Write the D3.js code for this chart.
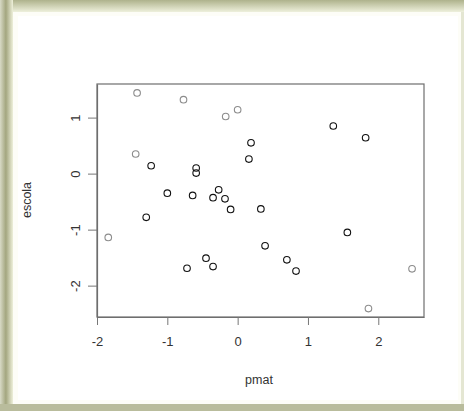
<!DOCTYPE html>
<html>
<head>
  <meta charset="utf-8" />
  <script src="https://d3js.org/d3.v7.min.js"></script>
  <style>
    body { margin: 0; background: #fff; }
    text { font-family: "Liberation Sans", Arial, sans-serif; fill: #333; }
  </style>
</head>
<body>
  <div id="chart"></div>
  <script>
    // pmat / escola values
    const pmat = [-1.43, -0.77, -0.17, 0.00, 1.36, 1.82, 0.19, 0.16, -1.45, -1.23,
                  -0.59, -0.59, -1.00, -0.64, -0.27, -0.35, -0.18, -0.10, 0.33, -1.30,
                  -1.84, 1.56, 0.39, -0.45, -0.72, -0.35, 0.70, 0.83, 2.48, 1.86];
    const escola = [1.44, 1.32, 1.02, 1.14, 0.85, 0.64, 0.55, 0.26, 0.35, 0.14,
                    0.10, 0.01, -0.35, -0.39, -0.29, -0.43, -0.45, -0.64, -0.63, -0.78,
                    -1.14, -1.05, -1.29, -1.51, -1.69, -1.66, -1.54, -1.74, -1.70, -2.41];
    const xTicks = [-2, -1, 0, 1, 2];
    const yTicks = [-2, -1, 0, 1];

    const width = 464, height = 411;
    const box = { left: 97, right: 424, top: 84, bottom: 317 };

    const svg = d3.select("#chart").append("svg")
      .attr("width", width).attr("height", height);

    // picture frame round the plot
    const defs = svg.append("defs");
    const gTop = defs.append("linearGradient").attr("id", "gtop")
      .attr("x1", 0).attr("y1", 0).attr("x2", 0).attr("y2", 1);
    gTop.append("stop").attr("offset", "0%").attr("stop-color", "#aeb28c");
    gTop.append("stop").attr("offset", "100%").attr("stop-color", "#eef0dc");
    const gLeft = defs.append("linearGradient").attr("id", "gleft")
      .attr("x1", 0).attr("y1", 0).attr("x2", 1).attr("y2", 0);
    gLeft.append("stop").attr("offset", "0%").attr("stop-color", "#d8dac6");
    gLeft.append("stop").attr("offset", "45%").attr("stop-color", "#a3a67f");
    gLeft.append("stop").attr("offset", "100%").attr("stop-color", "#eef0da");

    svg.append("rect").attr("width", width).attr("height", height).attr("fill", "#e4e6d2");
    svg.append("rect").attr("x", 0).attr("y", 0).attr("width", width).attr("height", 12)
      .attr("fill", "url(#gtop)");
    svg.append("rect").attr("x", 0).attr("y", 0).attr("width", 13).attr("height", height)
      .attr("fill", "url(#gleft)");
    svg.append("rect").attr("x", 0).attr("y", 404).attr("width", width).attr("height", 7)
      .attr("fill", "#b9bc9c");
    svg.append("rect").attr("x", 13).attr("y", 12).attr("width", 448).attr("height", 392)
      .attr("fill", "#fdfdf7");
    svg.append("rect").attr("x", 18).attr("y", 16).attr("width", 440).attr("height", 384)
      .attr("fill", "#ffffff");

    const x = d3.scaleLinear().domain([-2.0, 2.65]).range([box.left, box.right]);
    const y = d3.scaleLinear().domain([-2.56, 1.6]).range([box.bottom, box.top]);

    // box
    svg.append("rect")
      .attr("x", box.left).attr("y", box.top)
      .attr("width", box.right - box.left).attr("height", box.bottom - box.top)
      .attr("fill", "none").attr("stroke", "#6e6e6e").attr("stroke-width", 1.2);

    const fmt = d => String(d);
    const xAxis = svg.append("g")
      .attr("transform", `translate(0,${box.bottom})`)
      .call(d3.axisBottom(x).tickValues(xTicks).tickSize(8).tickSizeOuter(0)
        .tickPadding(12).tickFormat(fmt));
    const yAxis = svg.append("g")
      .attr("transform", `translate(${box.left},0)`)
      .call(d3.axisLeft(y).tickValues(yTicks).tickSize(9).tickSizeOuter(0)
        .tickPadding(10).tickFormat(fmt));

    [xAxis, yAxis].forEach(a => {
      a.select(".domain").attr("stroke", "#6e6e6e").attr("stroke-width", 1.2);
      a.selectAll(".tick line").attr("stroke", "#777");
      a.selectAll(".tick text").attr("font-size", 13).style("fill", "#333")
        .attr("font-family", "Liberation Sans, Arial, sans-serif");
    });
    yAxis.selectAll(".tick text")
      .attr("text-anchor", "middle")
      .attr("x", 0)
      .attr("dy", "0.35em")
      .attr("transform", "translate(-22,0) rotate(-90)");

    // axis titles
    svg.append("text").attr("x", 259).attr("y", 384)
      .attr("text-anchor", "middle").attr("font-size", 12.5).text("pmat");
    svg.append("text")
      .attr("transform", `translate(31,200) rotate(-90)`)
      .attr("text-anchor", "middle").attr("font-size", 12.5).text("escola");

    // points; those near the picture edges came out faded in the original
    const inner = { x0: 138, x1: 408, y0: 125, y1: 293 };
    const pts = pmat.map((v, i) => ({ px: v, py: escola[i] }));
    svg.selectAll(".pt")
      .data(pts)
      .join("circle")
      .attr("class", "pt")
      .attr("cx", d => x(d.px))
      .attr("cy", d => y(d.py))
      .attr("r", 3.3)
      .attr("fill", "none")
      .attr("stroke", d => {
        const cx = x(d.px), cy = y(d.py);
        return (cx < inner.x0 || cx > inner.x1 || cy < inner.y0 || cy > inner.y1) ? "#8c8c8c" : "#111";
      })
      .attr("stroke-width", 1.1);
  </script>
</body>
</html>
